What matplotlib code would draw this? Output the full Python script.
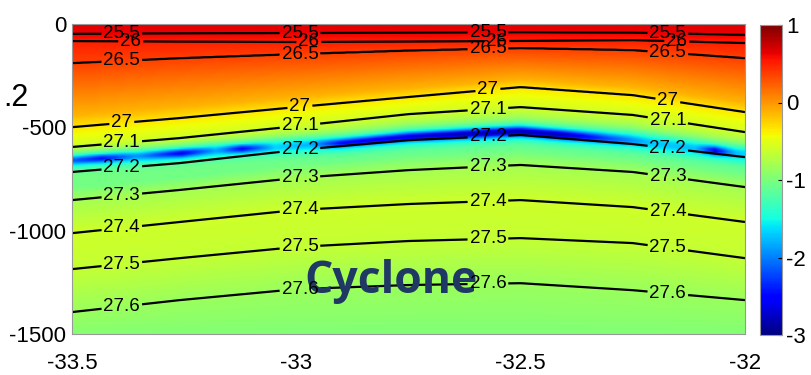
import numpy as np
import matplotlib
matplotlib.use("Agg")
import matplotlib.pyplot as plt

plt.rcParams['font.family'] = ['Liberation Sans', 'DejaVu Sans']
plt.rcParams['axes.unicode_minus'] = False

# section longitudes where the isopycnal depths were taken
lon_nodes = [-33.5, -33.26, -33.0, -32.75, -32.5, -32.25, -32.0]

# isopycnal levels and their depths (m) along the section
sigma_levels = [25.5, 26.0, 26.5, 27.0, 27.1, 27.2, 27.3, 27.4, 27.5, 27.6]
isopycnal_depth = [
    [48, 45, 44, 42, 40, 42, 53],
    [82, 85, 87, 85, 82, 78, 92],
    [189, 165, 145, 128, 116, 126, 165],
    [499, 455, 402, 353, 305, 344, 426],
    [595, 552, 494, 436, 402, 440, 523],
    [716, 673, 610, 562, 537, 581, 644],
    [852, 803, 745, 707, 682, 716, 789],
    [1012, 958, 900, 871, 852, 886, 958],
    [1186, 1133, 1079, 1050, 1036, 1060, 1133],
    [1394, 1336, 1283, 1263, 1254, 1288, 1336],
]

# anomaly as a function of density (background profile)
anom_sigma = [25.2, 25.5, 26.0, 26.5, 26.75, 26.9, 27.0, 27.1, 27.18, 27.25, 27.3, 27.4, 27.5, 27.6, 27.7]
anom_value = [0.66, 0.62, 0.5, 0.36, 0.06, -0.12, -0.35, -0.6, -1.0, -1.05, -0.8, -0.6, -0.65, -0.85, -1.0]

# low-anomaly layer just above sigma 27.2: core density and minimum value
band_lon = [-33.5, -33.44, -33.36, -33.26, -33.18, -33.125, -33.05, -32.97, -32.9,
            -32.8, -32.6, -32.4, -32.3, -32.2, -32.1, -32.06, -32.02, -32.0]
band_min = [-2.3, -2.6, -2.0, -2.7, -1.9, -2.6, -1.7, -1.8, -2.5,
            -2.6, -2.85, -2.8, -2.2, -1.7, -1.75, -2.6, -1.8, -1.7]
band_core_lon = [-33.5, -33.2, -32.9, -32.0]
band_core_sigma = [27.15, 27.16, 27.185, 27.185]

cbar_ticks = [1, 0, -1, -2, -3]
xticks = [-33.5, -33, -32.5, -32]
yticks = [0, -500, -1000, -1500]


def sigma_section(lons, depths):
    sig = np.empty((len(depths), len(lons)))
    for j, lo in enumerate(lons):
        dz = [np.interp(lo, lon_nodes, row) for row in isopycnal_depth]
        sig[:, j] = np.interp(depths, [0] + dz + [1550], [25.2] + sigma_levels + [27.7])
    return sig


# coarse grid for the colour field
lon_c = np.arange(-33.5, -32.0 + 1e-6, 0.015)
dep_c = np.arange(0, 1501, 8)
sig_c = sigma_section(lon_c, dep_c)
field = np.interp(sig_c, anom_sigma, anom_value)
centre = np.interp(lon_c, band_core_lon, band_core_sigma)[None, :]
core = (np.interp(lon_c, band_lon, band_min) + 1.7)[None, :]
halo = np.exp(-((sig_c - centre) / 0.035) ** 2)
narrow = np.exp(-((sig_c - centre) / 0.016) ** 2)
field = field - 0.7 * halo + core * narrow

# fine grid for smooth contours
lon_f = np.linspace(-33.5, -32.0, 300)
dep_f = np.linspace(0, 1500, 700)
sig_f = sigma_section(lon_f, dep_f)

fig = plt.figure(figsize=(8.11, 3.75), dpi=100)
ax = fig.add_axes([72 / 811, 41 / 375, 673 / 811, 310 / 375])
cax = fig.add_axes([760 / 811, 40 / 375, 22 / 811, 310 / 375])

im = ax.imshow(field, cmap='jet', vmin=-3, vmax=1, aspect='auto', origin='upper',
               extent=[-33.5, -32.0, -1500, 0], interpolation='bilinear')

cs = ax.contour(lon_f, -dep_f, sig_f, levels=sigma_levels, colors='black', linewidths=1.6)

label_cols = [-33.389, -32.992, -32.573, -32.172]
manual = []
for lev, row in zip(sigma_levels, isopycnal_depth):
    for lo in label_cols:
        if lev == 26.0:
            lo = lo + 0.02
        manual.append((lo, -np.interp(lo, lon_nodes, row)))
labels = ax.clabel(cs, fmt=lambda v: f'{v:g}', fontsize=13.5, inline=True,
                   inline_spacing=2, manual=manual)
for t in labels:
    t.set_rotation(0)

ax.text(-32.789, -1245, 'Cyclone', fontsize=32, fontweight='bold', color='#1F3864',
        family=['Open Sans', 'DejaVu Sans'], ha='center', va='center')

ax.set_xlim(-33.5, -32.0)
ax.set_ylim(-1500, 0)
ax.set_xticks(xticks)
ax.set_xticklabels([f'{v:g}' for v in xticks])
ax.set_yticks(yticks)
ax.tick_params(axis='x', length=0, pad=14, labelsize=16)
ax.tick_params(axis='y', length=0, pad=4, labelsize=16)
for s in ax.spines.values():
    s.set_color('#999999')
    s.set_linewidth(0.8)

cb = fig.colorbar(im, cax=cax, ticks=cbar_ticks)
cb.ax.tick_params(labelsize=16, length=3, direction='in', pad=3)
cb.outline.set_edgecolor('#999999')
cb.outline.set_linewidth(0.8)

fig.text(29 / 811, 1 - 98 / 375, '.2', ha='right', va='center', fontsize=22)

fig.savefig('out.png', dpi=100)
